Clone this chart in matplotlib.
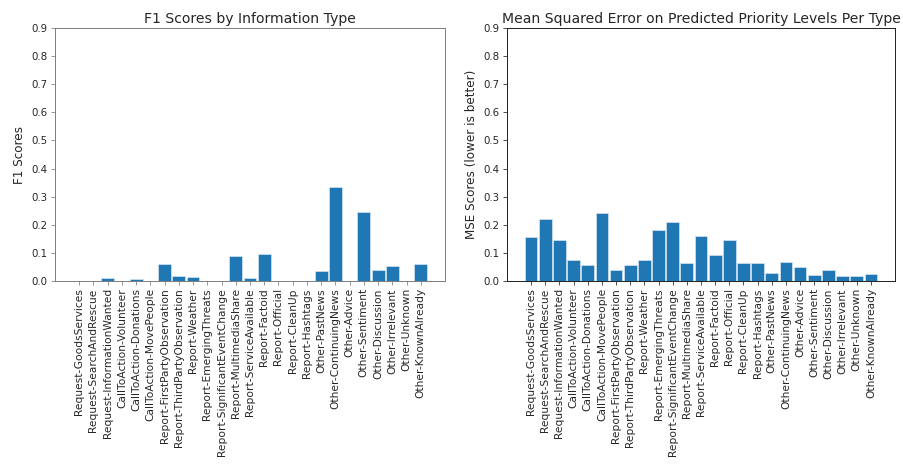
import matplotlib
matplotlib.use("Agg")
import matplotlib.pyplot as plt
import numpy as np

categories = [
    "Request-GoodsServices", "Request-SearchAndRescue", "Request-InformationWanted",
    "CallToAction-Volunteer", "CallToAction-Donations", "CallToAction-MovePeople",
    "Report-FirstPartyObservation", "Report-ThirdPartyObservation", "Report-Weather",
    "Report-EmergingThreats", "Report-SignificantEventChange", "Report-MultimediaShare",
    "Report-ServiceAvailable", "Report-Factoid", "Report-Official", "Report-CleanUp",
    "Report-Hashtags", "Other-PastNews", "Other-ContinuingNews", "Other-Advice",
    "Other-Sentiment", "Other-Discussion", "Other-Irrelevant", "Other-Unknown",
    "Other-KnownAlready",
]

f1_scores = [
    0.0, 0.0, 0.009, 0.0, 0.006, 0.0,
    0.059, 0.017, 0.013, 0.0, 0.0, 0.088,
    0.009, 0.096, 0.0, 0.0, 0.0, 0.035,
    0.335, 0.0, 0.245, 0.039, 0.051, 0.0, 0.059,
]

mse_scores = [
    0.156, 0.219, 0.144, 0.074, 0.057, 0.241,
    0.037, 0.057, 0.074, 0.181, 0.211, 0.062,
    0.161, 0.091, 0.144, 0.062, 0.062, 0.029,
    0.067, 0.049, 0.020, 0.038, 0.016, 0.016, 0.024,
]

plt.rcParams["font.family"] = "DejaVu Sans"
plt.rcParams["font.size"] = 10
text_col = "#262626"

DPI = 72
fig = plt.figure(figsize=(903 / DPI, 475 / DPI), dpi=DPI)
ax1 = fig.add_axes([0.0609, 0.409, 0.4319, 0.5314])
ax2 = fig.add_axes([0.5615, 0.409, 0.4296, 0.5314])

x = np.arange(len(categories))

def style(ax, values, title, ylabel, spine_col):
    ax.bar(x, values, width=0.9, color="#1f77b4", edgecolor="#dfe9f3", linewidth=0.6)
    ax.set_xlim(-1.7, len(categories) - 1 + 1.7)
    ax.set_ylim(0, 0.9)
    ticks = np.arange(0, 0.91, 0.1)
    ax.set_yticks(ticks)
    ax.set_yticklabels([f"{v:.1f}" for v in ticks], fontsize=10.2)
    ax.set_xticks(x)
    ax.set_xticklabels(categories, rotation=90, fontsize=10.6)
    ax.set_title(title, fontsize=14, color=text_col, pad=5)
    ax.set_ylabel(ylabel, fontsize=12, color=text_col, labelpad=5)
    for s in ax.spines.values():
        s.set_color(spine_col)
        s.set_linewidth(1.0)
    ax.tick_params(colors=text_col, labelcolor=text_col, length=4)
    ax.tick_params(axis="both", color=spine_col)

style(ax1, f1_scores, "F1 Scores by Information Type", "F1 Scores", "#808080")
style(ax2, mse_scores, "Mean Squared Error on Predicted Priority Levels Per Type",
      "MSE Scores (lower is better)", "#262626")

fig.savefig("out.png", dpi=DPI)
